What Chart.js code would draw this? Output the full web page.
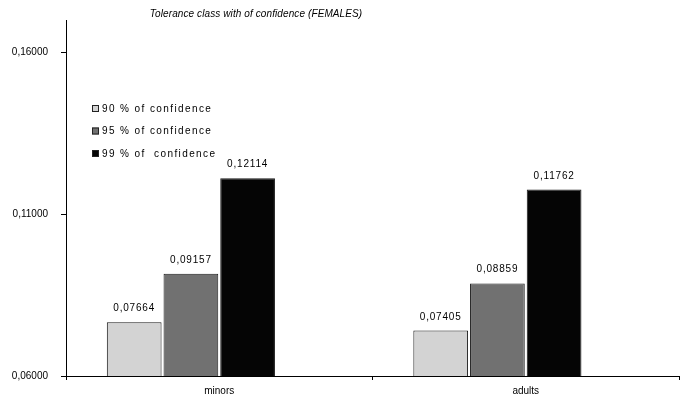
<!DOCTYPE html>
<html>
<head>
<meta charset="utf-8">
<script src="https://cdn.jsdelivr.net/npm/chart.js@4/dist/chart.umd.min.js"></script>
<style>
  html, body { margin: 0; padding: 0; background: #fff; }
  #wrap { width: 688px; height: 399px; }
</style>
</head>
<body>
<div id="wrap"><canvas id="c" width="688" height="399"></canvas></div>
<script>
// Categories and tolerance-class values per confidence level
const categories = ['minors', 'adults'];
const seriesLabels = ['90 % of confidence', '95 % of confidence', '99 % of  confidence'];
const conf90 = [0.07664, 0.07405];
const conf95 = [0.09157, 0.08859];
const conf99 = [0.12114, 0.11762];
const emptySlot = [null, null];           // unused fourth series slot
const yTickValues = [0.06, 0.11, 0.16];
const chartTitle = 'Tolerance class with of confidence (FEMALES)';

const fmt = v => v.toFixed(5).replace('.', ',');
const FONT = "'Liberation Sans', Arial, sans-serif";

// Value labels above each bar
const valueLabels = {
  id: 'valueLabels',
  afterDatasetsDraw(chart) {
    const ctx = chart.ctx;
    ctx.save();
    ctx.font = '10px ' + FONT;
    ctx.letterSpacing = '0.8px';
    ctx.fillStyle = '#000';
    ctx.textAlign = 'center';
    ctx.textBaseline = 'alphabetic';
    chart.data.datasets.forEach((ds, i) => {
      if (!ds.label) return;
      chart.getDatasetMeta(i).data.forEach((el, j) => {
        const v = ds.data[j];
        if (v == null) return;
        ctx.fillText(fmt(v), el.x, el.y - 11);
      });
    });
    ctx.restore();
  }
};

// Title and legend drawn inside the plot
const overlay = {
  id: 'overlay',
  afterDraw(chart) {
    const ctx = chart.ctx;
    ctx.save();
    ctx.fillStyle = '#000';
    ctx.font = 'italic 10px ' + FONT;
    ctx.letterSpacing = '0.1px';
    ctx.textAlign = 'center';
    ctx.textBaseline = 'middle';
    ctx.fillText(chartTitle, 256, 14);

    ctx.font = '10px ' + FONT;
    ctx.letterSpacing = '1.4px';
    ctx.textAlign = 'left';
    let y = 108.5;
    chart.data.datasets.forEach(ds => {
      if (!ds.label) return;
      ctx.fillStyle = ds.backgroundColor;
      ctx.fillRect(92, y - 3.5, 7, 7);
      ctx.strokeStyle = '#222';
      ctx.lineWidth = 1;
      ctx.strokeRect(92.5, y - 3, 6, 6);
      ctx.fillStyle = '#000';
      ctx.fillText(ds.label, 102, y + 0.5);
      y += 22.5;
    });
    ctx.restore();
  }
};

const barStyle = { borderColor: '#1a1a1a', borderWidth: 1, borderSkipped: false };

new Chart(document.getElementById('c'), {
  type: 'bar',
  data: {
    labels: categories,
    datasets: [
      { label: seriesLabels[0], data: conf90, backgroundColor: '#d3d3d3', ...barStyle },
      { label: seriesLabels[1], data: conf95, backgroundColor: '#717171', ...barStyle },
      { label: seriesLabels[2], data: conf99, backgroundColor: '#050505', ...barStyle },
      { label: '', data: emptySlot, backgroundColor: 'rgba(0,0,0,0)', borderWidth: 0 }
    ]
  },
  options: {
    responsive: false,
    devicePixelRatio: 1,
    animation: false,
    datasets: { bar: { categoryPercentage: 0.74, barPercentage: 0.965 } },
    layout: { padding: { top: 20, right: 9, left: 0, bottom: 0 } },
    plugins: {
      legend: { display: false },
      title: { display: false },
      tooltip: { enabled: false }
    },
    scales: {
      x: {
        grid: { display: true, drawOnChartArea: false, drawTicks: true, tickLength: 4, color: '#000', lineWidth: 1 },
        border: { display: true, color: '#000', width: 1 },
        ticks: { color: '#000', font: { family: FONT, size: 10 }, padding: 5 },
        afterFit(s) { s.height = 23; }
      },
      y: {
        min: 0.06,
        max: 0.17,
        afterBuildTicks(s) { s.ticks = yTickValues.map(v => ({ value: v })); },
        grid: { display: true, drawOnChartArea: false, drawTicks: true, tickLength: 5, color: '#000', lineWidth: 1 },
        border: { display: true, color: '#000', width: 1 },
        ticks: { color: '#000', font: { family: FONT, size: 10 }, padding: 13, callback: v => fmt(v) },
        afterFit(s) { s.width = 66; }
      }
    }
  },
  plugins: [valueLabels, overlay]
});
</script>
</body>
</html>
